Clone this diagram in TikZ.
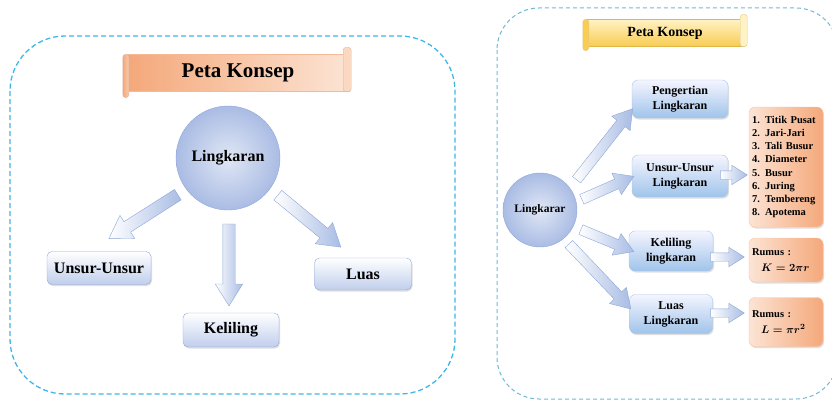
\documentclass[tikz,border=0pt]{standalone}
\usepackage{fontspec}
\setmainfont{Liberation Serif}
\usepackage{amsmath}
\usetikzlibrary{shapes.arrows, shadows, calc, positioning}

\definecolor{garisL}{RGB}{64,182,232}
\definecolor{garisR}{RGB}{112,184,212}
\definecolor{tepi}{RGB}{143,166,216}
\definecolor{isi}{RGB}{192,206,236}
\definecolor{bolaterang}{RGB}{224,231,245}
\definecolor{bolagelap}{RGB}{170,188,228}
\definecolor{biru}{RGB}{160,196,234}
\definecolor{birutepi}{RGB}{170,198,230}
\definecolor{jingga}{RGB}{244,168,122}
\definecolor{jinggamuda}{RGB}{252,228,212}
\definecolor{emas}{RGB}{249,204,82}
\definecolor{emasmuda}{RGB}{255,242,196}
\definecolor{panahbiru}{RGB}{168,188,228}

% big filled arrow between two points
\newcommand{\panah}[3]{%
  \path let \p1=($(#3)-(#2)$), \n1={atan2(\y1,\x1)}, \n2={veclen(\x1,\y1)} in
    node[#1, minimum height=\n2, rotate=\n1] at ($(#2)!0.5!(#3)$) {};}

\begin{document}
\begin{tikzpicture}[x=1pt, y=-1pt,
  bayang/.style = {drop shadow={opacity=.25, shadow xshift=1pt, shadow yshift=-1.5pt}},
  kotak/.style = {draw=tepi, rounded corners=5pt, top color=white, bottom color=isi, bayang,
    font=\bfseries\fontsize{16}{18}\selectfont},
  kotakbiru/.style = {draw=birutepi, rounded corners=6pt, top color=blue!4, bottom color=biru, bayang,
    align=center, font=\bfseries\fontsize{12}{15}\selectfont},
  kotakjingga/.style = {draw=jingga!70, rounded corners=6pt, left color=jinggamuda, right color=jingga, bayang,
    align=left, text width=68pt, inner xsep=3pt, font=\bfseries\fontsize{10.5}{13.2}\selectfont},
  bulat/.style = {circle, draw=tepi, inner color=bolaterang, outer color=bolagelap},
  fat/.style = {single arrow, draw=tepi, left color=white, right color=panahbiru,
    inner xsep=0pt, inner ysep=#1, single arrow head extend=#1+1.5pt, single arrow tip angle=64},
  fat/.default = 6pt,
  gulung/.style = {rounded corners=3pt, draw=#1!80!black!60}]
\useasboundingbox (0,0) rectangle (832,404);
\clip (0,0) rectangle (832,404);

% panels
\draw[garisL, line width=1.3pt, dash pattern=on 5pt off 3pt, rounded corners=55pt] (10,36) rectangle (455,394);
\draw[garisR, line width=1pt, dash pattern=on 4pt off 3pt, rounded corners=42pt] (497,8) rectangle (838,399);

% left title
\node[minimum width=222pt, minimum height=37pt, left color=jingga, right color=jinggamuda, draw=jingga!80,
  font=\bfseries\fontsize{21}{24}\selectfont] (judul) at (238,73) {Peta Konsep};
\draw[gulung=jingga, left color=jingga, right color=jingga!60] ([xshift=-4pt]judul.north west) rectangle ([xshift=2pt, yshift=-6pt]judul.south west);
\draw[gulung=jingga, fill=jinggamuda!80!jingga] ([xshift=-6pt, yshift=7pt]judul.north east) rectangle ([xshift=2pt]judul.south east);

% left map
\node[bulat, minimum size=104pt, font=\bfseries\fontsize{16}{18}\selectfont] (lingkaran) at (228,158) {Lingkaran};
\node[kotak, minimum width=104pt, minimum height=33pt] (unsur) at (99,268) {Unsur-Unsur};
\node[kotak, minimum width=96pt, minimum height=34pt] (keliling) at (231,330) {Keliling};
\node[kotak, minimum width=97pt, minimum height=32pt] (luas) at (363,274) {Luas};

\coordinate (a1) at (182,192);  \coordinate (b1) at (113,236);
\coordinate (a2) at (229,219);  \coordinate (b2) at (229,301);
\coordinate (a3) at (274,192);  \coordinate (b3) at (337,244);
\panah{fat}{a1}{b1}
\panah{fat}{a2}{b2}
\panah{fat}{a3}{b3}

% right title
\node[minimum width=158pt, minimum height=27pt, top color=emasmuda, bottom color=emas, draw=emas!90!black,
  font=\bfseries\fontsize{14}{16}\selectfont] (judul2) at (665,33) {Peta Konsep};
\draw[gulung=emas, fill=emas] ([xshift=-3pt]judul2.north west) rectangle ([xshift=3pt, yshift=-4pt]judul2.south west);
\draw[gulung=emas, fill=emasmuda] ([xshift=-4pt, yshift=5pt]judul2.north east) rectangle ([xshift=3pt]judul2.south east);

% right map
\node[bulat, minimum size=74pt, font=\bfseries\fontsize{11.5}{13}\selectfont] (pusat) at (540,210) {Lingkarar};
\node[kotakbiru, minimum width=96pt, minimum height=38pt] (pengertian) at (680,99) {Pengertian\\Lingkaran};
\node[kotakbiru, minimum width=96pt, minimum height=42pt] (unsur2) at (680,176) {Unsur-Unsur\\Lingkaran};
\node[kotakbiru, minimum width=84pt, minimum height=40pt] (keliling2) at (671,251) {Keliling\\lingkaran};
\node[kotakbiru, minimum width=83pt, minimum height=39pt] (luas2) at (671,314) {Luas\\Lingkaran};

\node[kotakjingga, minimum height=120pt] (daftar) at (786,167)
  {1. Titik Pusat\\2. Jari-Jari\\3. Tali Busur\\4. Diameter\\5. Busur\\6. Juring\\7. Tembereng\\8. Apotema};
\node[kotakjingga, minimum height=44pt] (rumusK) at (786,260)
  {Rumus :\\[2pt]\hspace*{9pt}\fontsize{11}{13}\selectfont$\boldsymbol{K = 2\pi r}$};
\node[kotakjingga, minimum height=49pt] (rumusL) at (786,322)
  {Rumus :\\[2pt]\hspace*{9pt}\fontsize{11}{13}\selectfont$\boldsymbol{L = \pi r^2}$};

\coordinate (c1) at (574,183);  \coordinate (d1) at (630,112);
\coordinate (c2) at (578,201);  \coordinate (d2) at (630,178);
\coordinate (c3) at (577,228);  \coordinate (d3) at (630,250);
\coordinate (c4) at (566,241);  \coordinate (d4) at (628,306);
\panah{fat=5pt}{c1}{d1}
\panah{fat=5pt}{c2}{d2}
\panah{fat=5pt}{c3}{d3}
\panah{fat=5pt}{c4}{d4}

\coordinate (e1) at (717,175);  \coordinate (f1) at (744,175);
\coordinate (e2) at (707,257);  \coordinate (f2) at (741,257);
\coordinate (e3) at (707,313);  \coordinate (f3) at (741,313);
\panah{fat=4pt}{e1}{f1}
\panah{fat=4pt}{e2}{f2}
\panah{fat=4pt}{e3}{f3}
\end{tikzpicture}
\end{document}
